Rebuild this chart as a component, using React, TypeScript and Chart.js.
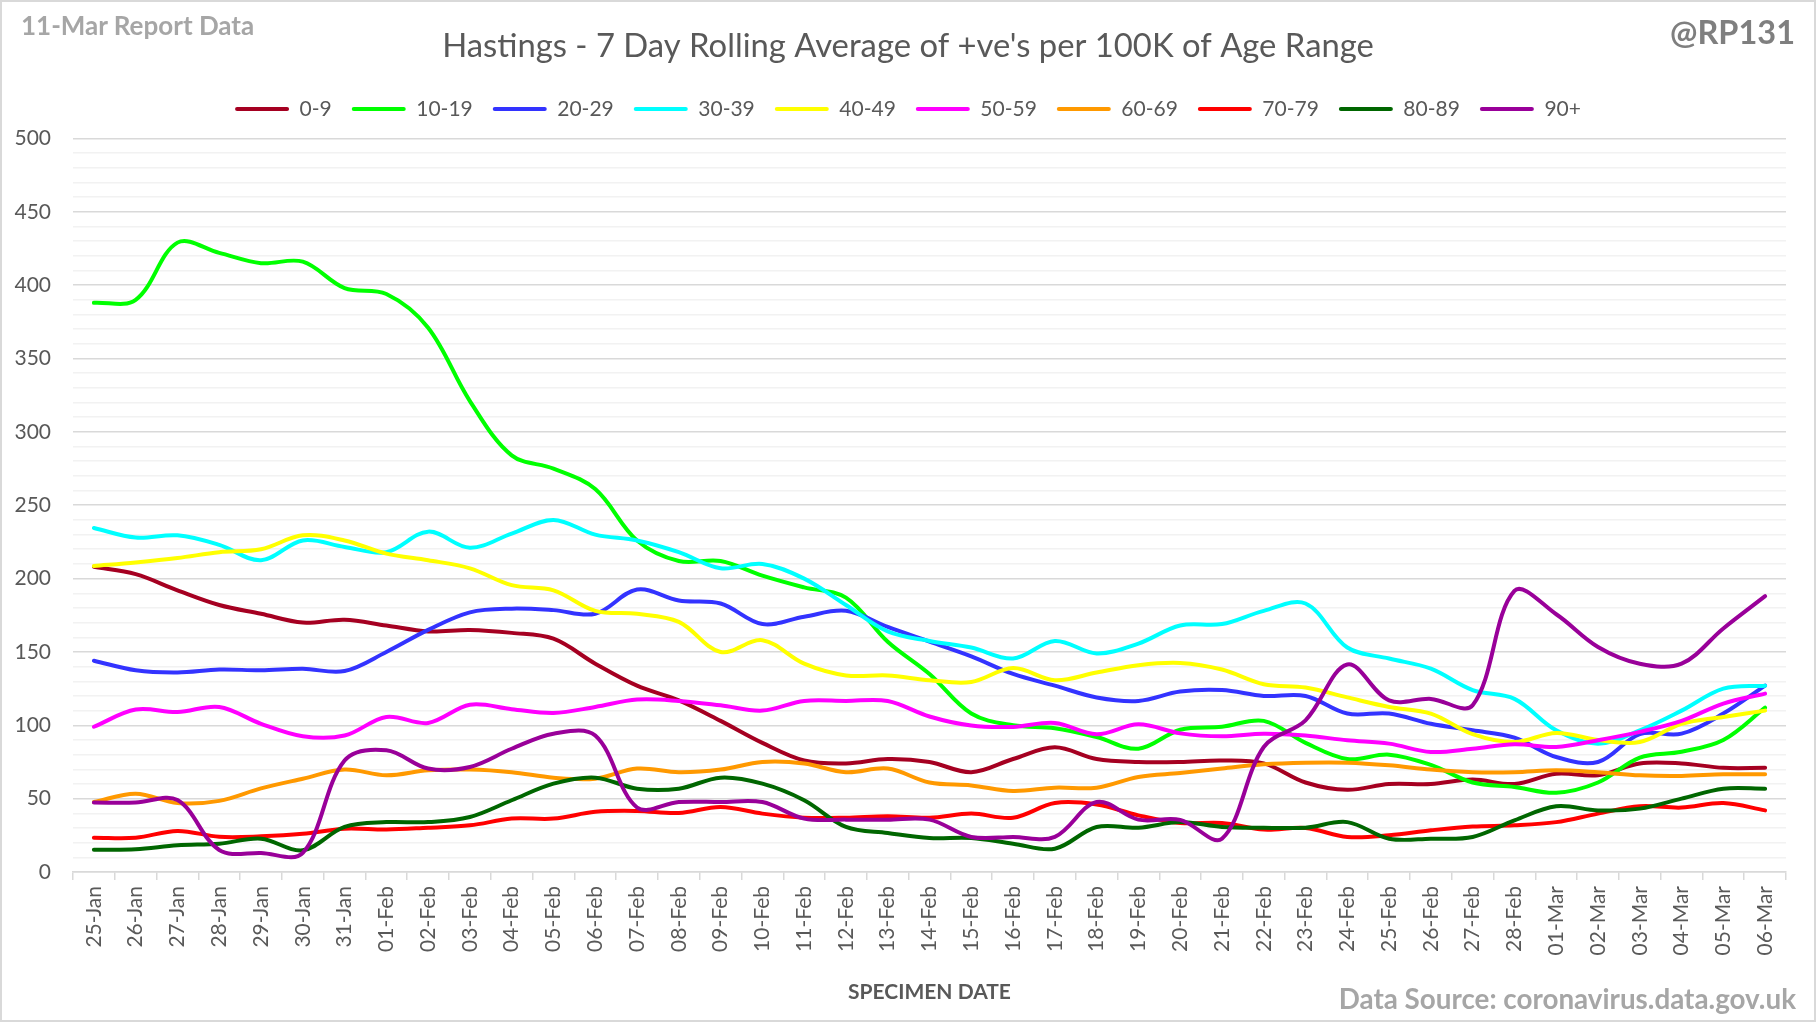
import React, { useEffect, useRef } from "react";
import { Chart, registerables, layouts } from "chart.js";

Chart.register(...registerables);

const categories = [
  "25-Jan", "26-Jan", "27-Jan", "28-Jan", "29-Jan", "30-Jan", "31-Jan",
  "01-Feb", "02-Feb", "03-Feb", "04-Feb", "05-Feb", "06-Feb", "07-Feb",
  "08-Feb", "09-Feb", "10-Feb", "11-Feb", "12-Feb", "13-Feb", "14-Feb",
  "15-Feb", "16-Feb", "17-Feb", "18-Feb", "19-Feb", "20-Feb", "21-Feb",
  "22-Feb", "23-Feb", "24-Feb", "25-Feb", "26-Feb", "27-Feb", "28-Feb",
  "01-Mar", "02-Mar", "03-Mar", "04-Mar", "05-Mar", "06-Mar",
];

const ageBands = ["0-9", "10-19", "20-29", "30-39", "40-49", "50-59", "60-69", "70-79", "80-89", "90+"];

const age0to9 = [208, 203, 192, 182, 176, 170, 172, 168, 164, 165, 163, 159, 142, 127, 117, 103, 88, 76, 74, 77, 75, 68, 77, 85, 77, 75, 75, 76, 74, 61, 56, 60, 60, 63, 60, 67, 66, 74, 74, 71, 71];
const age10to19 = [388, 390, 429, 422, 415, 416, 398, 394, 371, 321, 284, 275, 261, 226, 212, 212, 202, 194, 187, 157, 135, 108, 100, 98, 92, 84, 97, 99, 103, 88, 77, 80, 73, 61, 58, 54, 61, 78, 82, 90, 112];
const age20to29 = [144, 137.5, 136, 138, 137.5, 138.5, 137, 150, 165, 177, 179.5, 178.5, 176, 192.5, 185, 183, 169, 174, 178, 167, 157, 147, 135, 127, 119, 116.6, 123, 124, 120, 120, 108, 108, 101, 96.6, 91.6, 78.4, 75, 94, 94.3, 108, 127];
const age30to39 = [234.5, 228, 229.5, 223, 212.5, 226, 221.6, 218, 232, 221, 230.7, 240, 230, 226, 218, 207, 210, 200, 182, 164, 157.5, 153, 145.5, 157.5, 149, 155.7, 168, 169, 178, 183, 153, 145.5, 138.6, 124, 118, 96.6, 87.5, 96.6, 110, 125, 127];
const age40to49 = [208.6, 211, 214, 218, 220, 229.5, 226, 217, 212.5, 207, 195.5, 192, 178, 176, 170.5, 150, 158, 142, 134, 134, 130.7, 129.5, 139, 130.7, 136, 141, 142.5, 138, 128, 125.7, 119, 112.5, 108, 94, 88.6, 94.8, 90, 88.6, 101, 105.7, 110];
const age50to59 = [99, 110.7, 109, 112.5, 101, 92.5, 93, 105.7, 101.6, 114, 111, 108.4, 112.5, 117.5, 116.6, 113.6, 110, 116.6, 116.6, 116.6, 106, 99.8, 98.9, 101.6, 93.9, 100.7, 94.5, 92.5, 94.3, 93, 89.8, 87.5, 81.8, 84, 87, 85.2, 89.8, 95.5, 103, 114.8, 121.6];
const age60to69 = [47.7, 53.4, 47, 48.5, 57, 63.6, 69.8, 65.9, 69.3, 69.8, 68, 64.3, 63.6, 70.5, 68, 69.8, 75, 74, 68, 70.5, 61, 59, 55.2, 57.5, 57.5, 64.8, 67.5, 70.5, 73.4, 74.5, 74.5, 72.7, 69.8, 68, 68, 69.3, 68, 65.9, 65.5, 66.6, 66.6];
const age70to79 = [23.4, 23.4, 28, 24, 24.3, 26, 29.5, 28.9, 30.2, 31.8, 36.4, 36.4, 41, 41.6, 40.2, 44.3, 39.8, 37, 37, 38, 37, 39.8, 37, 47, 46, 38.6, 33.4, 33.4, 28.9, 30, 23.9, 25, 28.4, 31, 31.8, 34, 39.8, 44.8, 43.9, 47, 42];
const age80to89 = [15.2, 15.5, 18.2, 19.3, 22.7, 14.8, 30.7, 34, 34, 37.5, 48.9, 60.2, 64.3, 56.8, 56.8, 64.3, 60.2, 48.9, 30.7, 26.6, 23.2, 23.2, 19.3, 15.9, 30.7, 30.2, 34, 30.7, 30.2, 30.2, 34, 22.7, 22.7, 23.9, 35.2, 44.8, 42, 43.2, 50, 56.8, 56.8];
const age90plus = [47.3, 47.3, 49, 15, 13, 13, 76, 83, 70.5, 71.6, 84, 94.3, 93, 44, 47.7, 47.7, 47.7, 36.4, 35.7, 35.7, 35.7, 23.9, 23.9, 23.9, 47.7, 35.7, 35.5, 22.7, 85.2, 103.4, 141.4, 117, 118, 113.6, 191.6, 175.7, 153.4, 142, 142, 166, 188];

const seriesValues = [age0to9, age10to19, age20to29, age30to39, age40to49, age50to59, age60to69, age70to79, age80to89, age90plus];

const seriesColors = ["#A50021", "#00FF00", "#3333FF", "#00FFFF", "#FFFF00", "#FF00FF", "#FF9900", "#FF0000", "#006600", "#990099"];

const FONT = "Lato, 'Open Sans', sans-serif";

const makeSpacer = (position: string, size: number, fullSize: boolean) => ({
  position,
  weight: 500,
  fullSize,
  options: {},
  left: 0, top: 0, right: 0, bottom: 0, width: 0, height: 0,
  isHorizontal() { return position === "top" || position === "bottom"; },
  update(maxWidth: number, maxHeight: number) {
    if (this.isHorizontal()) { this.width = maxWidth; this.height = size; }
    else { this.width = size; this.height = maxHeight; }
  },
  draw() {},
});

const spacerPlugin = {
  id: "layoutSpacers",
  beforeInit(chart: any) {
    layouts.addBox(chart, makeSpacer("top", 9, true) as any);
    layouts.addBox(chart, makeSpacer("right", 30, false) as any);
  },
};

export default function App() {
  const canvasRef = useRef<HTMLCanvasElement | null>(null);

  useEffect(() => {
    document.body.style.margin = "0";
    const canvas = canvasRef.current;
    if (!canvas) return;
    const chart = new Chart(canvas, {
      type: "line",
      data: {
        labels: categories,
        datasets: ageBands.map((name, i) => ({
          label: name,
          data: seriesValues[i],
          borderColor: seriesColors[i],
          backgroundColor: seriesColors[i],
          borderWidth: 4,
          pointRadius: 0,
          pointHoverRadius: 0,
          tension: 0.35,
          fill: false,
          borderCapStyle: "round",
          borderJoinStyle: "round",
          order: ageBands.length - 1 - i,
        })),
      },
      plugins: [spacerPlugin],
      options: {
        responsive: false,
        animation: false,
        devicePixelRatio: 1,
        layout: { padding: { left: 0, right: 0, top: 0, bottom: 0 } },
        plugins: {
          title: {
            display: true,
            text: "Hastings - 7 Day Rolling Average of +ve's per 100K of Age Range",
            color: "#595959",
            font: { family: FONT, size: 32.8, weight: "normal" },
            padding: { top: 26.3, bottom: 12.8 },
          },
          legend: {
            display: true,
            position: "top",
            labels: {
              color: "#595959",
              font: { family: FONT, size: 21 },
              boxWidth: 54,
              boxHeight: 4,
              padding: 20,
              useBorderRadius: true,
              borderRadius: 2,
              sort: (a: any, b: any) => a.datasetIndex - b.datasetIndex,
              generateLabels: (c: any) =>
                Chart.defaults.plugins.legend.labels.generateLabels(c).map((l: any) => ({
                  ...l,
                  fillStyle: l.strokeStyle,
                  lineWidth: 0,
                  borderRadius: 2,
                })),
            },
          },
          tooltip: { enabled: false },
        },
        scales: {
          x: {
            type: "category",
            offset: true,
            afterFit: (s: any) => { s.height = 150; },
            grid: {
              display: true,
              drawOnChartArea: false,
              drawTicks: true,
              tickLength: 8,
              offset: true,
              color: "#d9d9d9",
              lineWidth: 1.5,
            },
            border: { display: true, color: "#d9d9d9", width: 1.5 },
            ticks: {
              autoSkip: false,
              minRotation: 90,
              maxRotation: 90,
              padding: 6,
              color: "#595959",
              font: { family: FONT, size: 21 },
            },
            title: {
              display: true,
              text: "SPECIMEN DATE",
              color: "#595959",
              font: { family: FONT, size: 21, weight: "bold" },
              padding: { top: 0, bottom: 17 },
            },
          },
          y: {
            min: 0,
            max: 500,
            afterFit: (s: any) => { s.width = 73; },
            grid: {
              drawTicks: false,
              color: (ctx: any) => (ctx.tick && ctx.tick.value % 50 === 0 ? "#d9d9d9" : "#f2f2f2"),
              lineWidth: 1.5,
            },
            border: { display: false },
            ticks: {
              stepSize: 10,
              autoSkip: false,
              padding: 22,
              color: "#595959",
              font: { family: FONT, size: 21 },
              callback: (v: any) => (Number(v) % 50 === 0 ? String(v) : ""),
            },
          },
        },
      } as any,
    });
    return () => chart.destroy();
  }, []);

  return (
    <div style={{ position: "fixed", left: 0, top: 0, width: 1816, height: 1022, background: "#ffffff", fontFamily: FONT, overflow: "hidden" }}>
      <canvas ref={canvasRef} width={1816} height={1022} style={{ position: "absolute", left: 0, top: 0, width: 1816, height: 1022 }} />
      <div style={{ position: "absolute", left: 21, top: 11.9, fontSize: 26, lineHeight: 1, fontWeight: 700, color: "#a6a6a6", whiteSpace: "nowrap" }}>11-Mar Report Data</div>
      <div style={{ position: "absolute", right: 21, top: 16.2, fontSize: 32.5, lineHeight: 1, fontWeight: 700, color: "#7f7f7f", whiteSpace: "nowrap" }}>@RP131</div>
      <div style={{ position: "absolute", right: 20, top: 985.3, fontSize: 27.8, lineHeight: 1, fontWeight: 700, color: "#a6a6a6", whiteSpace: "nowrap" }}>Data Source: coronavirus.data.gov.uk</div>
      <div style={{ position: "absolute", left: 0, top: 0, right: 0, bottom: 0, border: "2px solid #d9d9d9", pointerEvents: "none" }} />
    </div>
  );
}
